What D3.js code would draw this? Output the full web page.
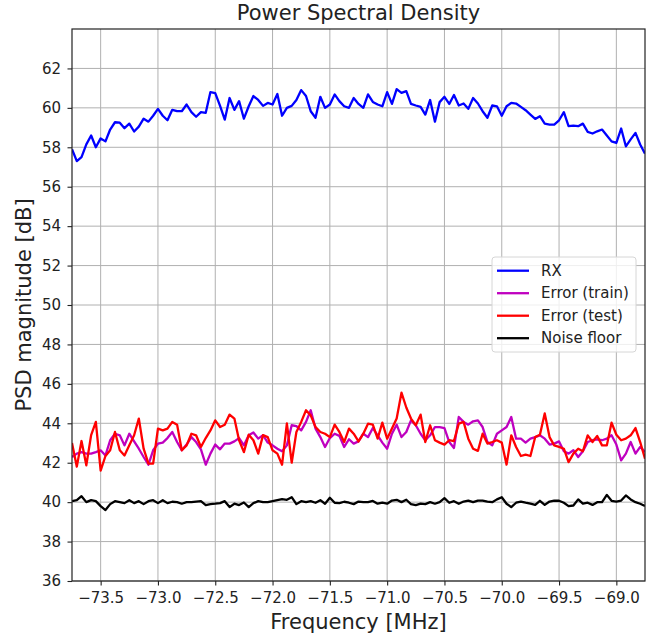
<!DOCTYPE html>
<html>
<head>
<meta charset="utf-8">
<script src="https://cdn.jsdelivr.net/npm/d3@7"></script>
<style>
  html, body { margin: 0; padding: 0; background: #fff; }
  svg { display: block; font-family: "DejaVu Sans", sans-serif; }
</style>
</head>
<body>
<div id="chart"></div>
<script>
// ---------------- DATA ----------------
const freqMHz = [
  -73.750,-73.708,-73.667,-73.625,-73.583,-73.542,-73.500,-73.458,-73.417,-73.375,-73.333,-73.292,
  -73.250,-73.208,-73.167,-73.125,-73.083,-73.042,-73.000,-72.958,-72.917,-72.875,-72.833,-72.792,
  -72.750,-72.708,-72.667,-72.625,-72.583,-72.542,-72.500,-72.458,-72.417,-72.375,-72.333,-72.292,
  -72.250,-72.208,-72.167,-72.125,-72.083,-72.042,-72.000,-71.958,-71.917,-71.875,-71.833,-71.792,
  -71.750,-71.708,-71.667,-71.625,-71.583,-71.542,-71.500,-71.458,-71.417,-71.375,-71.333,-71.292,
  -71.250,-71.208,-71.167,-71.125,-71.083,-71.042,-71.000,-70.958,-70.917,-70.875,-70.833,-70.792,
  -70.750,-70.708,-70.667,-70.625,-70.583,-70.542,-70.500,-70.458,-70.417,-70.375,-70.333,-70.292,
  -70.250,-70.208,-70.167,-70.125,-70.083,-70.042,-70.000,-69.958,-69.917,-69.875,-69.833,-69.792,
  -69.750,-69.708,-69.667,-69.625,-69.583,-69.542,-69.500,-69.458,-69.417,-69.375,-69.333,-69.292,
  -69.250,-69.208,-69.167,-69.125,-69.083,-69.042,-69.000,-68.958,-68.917,-68.875,-68.833,-68.792,
  -68.750
];

const rxPSD = [
  57.9, 57.3, 57.5, 58.15, 58.6, 58.0, 58.45, 58.3, 58.9, 59.27,
  59.25, 58.97, 59.2, 58.8, 59.05, 59.45, 59.3, 59.6, 59.95, 59.6,
  59.37, 59.9, 59.83, 59.83, 60.17, 59.78, 59.55, 59.78, 59.75, 60.8,
  60.75, 60.1, 59.4, 60.5, 59.9, 60.34, 59.45, 60.08, 60.6, 60.4,
  60.1, 60.25, 60.17, 60.7, 59.6, 60.0, 60.1, 60.4, 60.9, 60.6,
  59.83, 59.5, 60.56, 60.0, 60.17, 60.68, 60.34, 60.08, 60.0, 60.5,
  60.2, 60.0, 60.68, 60.3, 60.17, 60.08, 60.8, 60.2, 60.95, 60.76,
  60.85, 60.2, 60.12, 60.05, 59.66, 60.4, 59.3, 60.29, 60.56, 60.2,
  60.65, 60.12, 60.22, 59.95, 60.5, 60.22, 59.83, 59.5, 60.12, 60.08,
  59.6, 60.08, 60.25, 60.22, 60.05, 59.88, 59.66, 59.44, 59.58, 59.2,
  59.15, 59.15, 59.37, 59.78, 59.07, 59.1, 59.07, 59.2, 58.78, 58.7,
  58.81, 58.9, 58.6, 58.3, 58.22, 58.95, 58.05, 58.4, 58.73, 58.14,
  57.68
];

const errTrainPSD = [
  42.29, 42.46, 42.54, 42.46, 42.46, 42.54, 42.63, 42.37, 43.14, 43.47,
  43.39, 42.88, 43.47, 43.08, 42.71, 42.29, 41.9, 42.63, 42.97, 43.02,
  43.25, 43.56, 43.05, 42.63, 42.92, 43.3, 43.05, 42.68, 41.9, 42.46,
  42.92, 42.68, 42.97, 42.97, 43.08, 43.25, 42.88, 43.39, 43.53, 43.22,
  43.4, 43.02, 42.88, 42.71, 42.58, 42.88, 43.9, 43.86, 43.64, 44.07,
  44.66, 43.73, 43.3, 42.8, 43.25, 43.47, 43.36, 42.8, 43.19, 42.97,
  43.08, 43.47, 43.3, 43.76, 43.39, 43.02, 42.71, 43.47, 43.93, 43.3,
  43.56, 44.15, 43.9, 43.47, 43.14, 43.39, 43.81, 43.81, 43.76, 43.05,
  42.75, 44.32, 44.07, 43.93, 44.1, 44.15, 43.81, 43.05, 42.88, 43.47,
  43.64, 43.81, 44.32, 43.22, 43.22, 43.02, 43.22, 43.3, 43.39, 43.22,
  42.92, 42.97, 43.08, 42.58, 42.46, 42.63, 42.29, 42.58, 43.05, 43.14,
  43.19, 43.14, 43.22, 43.39, 42.92, 42.12, 42.46, 43.05, 42.46, 42.8,
  42.55
];

const errTestPSD = [
  43.0, 41.8, 43.1, 41.87, 43.4, 44.07, 41.6, 42.34, 42.63, 43.56,
  42.63, 42.37, 42.88, 43.39, 44.24, 42.71, 41.95, 41.95, 43.73, 43.64,
  43.73, 44.07, 43.93, 42.63, 42.88, 43.47, 43.39, 42.8, 43.25, 43.64,
  44.15, 43.81, 43.93, 44.44, 44.24, 43.14, 42.54, 43.42, 43.14, 42.46,
  43.4, 43.3, 42.63, 42.46, 41.9, 44.0, 42.0, 43.56, 44.07, 44.66,
  44.4, 43.81, 43.56, 43.47, 43.3, 43.93, 43.56, 43.05, 43.73, 43.47,
  43.08, 43.47, 43.98, 43.93, 43.22, 44.03, 43.22, 43.73, 44.24, 45.55,
  44.8, 44.24, 43.9, 44.44, 43.05, 43.9, 43.14, 43.02, 42.92, 43.14,
  43.1, 43.98, 44.07, 43.22, 42.71, 42.6, 43.47, 42.97, 43.05, 43.14,
  43.02, 41.9, 43.39, 42.8, 42.34, 42.41, 42.34, 43.3, 43.42, 44.5,
  43.3, 42.88, 42.8, 42.71, 42.03, 42.46, 42.71, 42.58, 43.39, 43.05,
  43.36, 42.88, 42.88, 44.03, 43.42, 43.14, 43.22, 43.39, 43.76, 43.05,
  42.2
];

const noisePSD = [
  40.05, 40.1, 40.3, 40.0, 40.1, 40.05, 39.8, 39.6, 39.9, 40.05,
  40.0, 39.95, 40.1, 39.95, 40.05, 39.9, 40.05, 40.1, 39.95, 40.1,
  39.95, 40.02, 40.0, 39.92, 40.0, 40.0, 40.03, 40.05, 39.85, 39.9,
  39.92, 39.95, 40.05, 39.75, 39.92, 39.85, 39.98, 39.75, 39.95, 40.05,
  40.0, 40.0, 40.05, 40.1, 40.15, 40.12, 40.25, 39.9, 40.05, 40.0,
  40.05, 39.97, 40.1, 39.92, 40.22, 39.97, 39.95, 40.02, 39.97, 39.9,
  40.03, 40.0, 40.0, 40.06, 39.92, 39.97, 39.92, 40.08, 40.12, 40.0,
  40.12, 39.9, 39.85, 39.92, 39.9, 40.0, 39.92, 40.0, 40.2, 39.97,
  40.05, 39.92, 40.03, 40.08, 40.0, 40.08, 40.08, 40.03, 40.0, 40.14,
  40.25, 39.92, 39.75, 39.97, 40.03, 39.97, 39.92, 39.86, 40.07, 39.86,
  40.03, 40.08, 40.07, 39.97, 39.8, 39.83, 40.14, 39.92, 39.97, 39.86,
  40.0, 40.0, 40.37, 40.07, 40.03, 40.08, 40.34, 40.14, 40.0, 39.92,
  39.8
];

const seriesNames = ["RX", "Error (train)", "Error (test)", "Noise floor"];
const seriesColors = ["#0000ff", "#bf00bf", "#ff0000", "#000000"];
const xTickValues = [-73.5, -73.0, -72.5, -72.0, -71.5, -71.0, -70.5, -70.0, -69.5, -69.0];
const yTickValues = [36, 38, 40, 42, 44, 46, 48, 50, 52, 54, 56, 58, 60, 62];
const xDomain = [-73.75, -68.75];
const yDomain = [36, 64];
const titleText = "Power Spectral Density";
const xLabelText = "Frequency [MHz]";
const yLabelText = "PSD magnitude [dB]";

// ---------------- LAYOUT ----------------
const W = 658, H = 641;
const M = { left: 72, top: 29, right: 13, bottom: 60 };
const pw = W - M.left - M.right;   // 573
const ph = H - M.top - M.bottom;   // 552

const svg = d3.select("#chart").append("svg").attr("width", W).attr("height", H);

const x = d3.scaleLinear().domain(xDomain).range([0, pw]);
const y = d3.scaleLinear().domain(yDomain).range([ph, 0]);

const g = svg.append("g").attr("transform", `translate(${M.left},${M.top})`);

svg.append("defs").append("clipPath").attr("id", "clip")
  .append("rect").attr("x", 0).attr("y", 0).attr("width", pw).attr("height", ph);

// grid
const grid = g.append("g");
grid.selectAll(".vg").data(xTickValues).enter().append("line")
  .attr("x1", d => x(d)).attr("x2", d => x(d)).attr("y1", 0).attr("y2", ph)
  .attr("stroke", "#b0b0b0").attr("stroke-width", 1);
grid.selectAll(".hg").data(yTickValues).enter().append("line")
  .attr("y1", d => y(d)).attr("y2", d => y(d)).attr("x1", 0).attr("x2", pw)
  .attr("stroke", "#b0b0b0").attr("stroke-width", 1);

// lines
const allSeries = [rxPSD, errTrainPSD, errTestPSD, noisePSD];
const line = d3.line().x((d, i) => x(freqMHz[i])).y(d => y(d));
const lines = g.append("g").attr("clip-path", "url(#clip)");
allSeries.forEach((s, i) => {
  lines.append("path").datum(s).attr("d", line)
    .attr("fill", "none").attr("stroke", seriesColors[i])
    .attr("stroke-width", 2.3).attr("stroke-linejoin", "round").attr("stroke-linecap", "butt");
});

// axes
const fmtX = d => (d < 0 ? "\u2212" : "") + Math.abs(d).toFixed(1);
const fmtY = d => (d < 0 ? "\u2212" : "") + Math.abs(d);
const xAxis = g.append("g").attr("transform", `translate(0,${ph})`)
  .call(d3.axisBottom(x).tickValues(xTickValues).tickFormat(fmtX).tickSize(4.5).tickPadding(7));
const yAxis = g.append("g")
  .call(d3.axisLeft(y).tickValues(yTickValues).tickFormat(fmtY).tickSize(4.5).tickPadding(6.5));
[xAxis, yAxis].forEach(a => {
  a.select(".domain").remove();
  a.selectAll(".tick line").attr("stroke", "#222").attr("stroke-width", 1.1);
  a.selectAll(".tick text").attr("fill", "#222").style("font-size", "15px")
    .style("font-family", "'DejaVu Sans', sans-serif");
});

// frame
g.append("rect").attr("x", 0).attr("y", 0).attr("width", pw).attr("height", ph)
  .attr("fill", "none").attr("stroke", "#222").attr("stroke-width", 1.2);

// title and labels
svg.append("text").attr("x", M.left + pw / 2).attr("y", 20).attr("text-anchor", "middle")
  .style("font-size", "21px").attr("fill", "#222").text(titleText);
svg.append("text").attr("x", M.left + pw / 2).attr("y", 629).attr("text-anchor", "middle")
  .style("font-size", "21px").attr("fill", "#222").text(xLabelText);
svg.append("text").attr("transform", `translate(31,${M.top + ph / 2}) rotate(-90)`)
  .attr("text-anchor", "middle").style("font-size", "21px").attr("fill", "#222").text(yLabelText);

// legend
const lg = svg.append("g").attr("transform", "translate(492,257)");
lg.append("rect").attr("x", 0).attr("y", 0).attr("width", 144).attr("height", 95)
  .attr("rx", 3).attr("fill", "#fff").attr("fill-opacity", 0.8)
  .attr("stroke", "#d6d6d6").attr("stroke-width", 1);
seriesNames.forEach((name, i) => {
  const yy = 13.7 + i * 22.5;
  lg.append("line").attr("x1", 5).attr("x2", 37).attr("y1", yy).attr("y2", yy)
    .attr("stroke", seriesColors[i]).attr("stroke-width", 2.3);
  lg.append("text").attr("x", 49).attr("y", yy).attr("dy", "0.35em")
    .style("font-size", "15px").attr("fill", "#222").text(name);
});
</script>
</body>
</html>
